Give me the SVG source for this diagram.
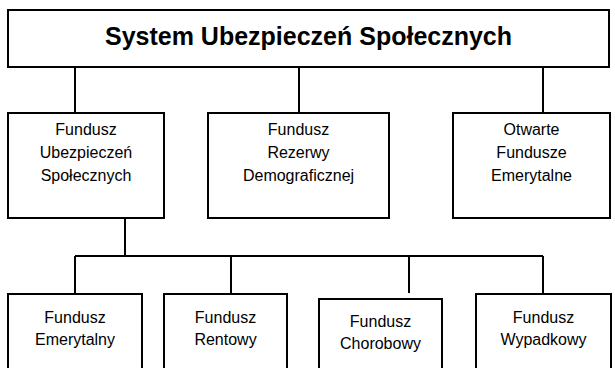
<svg xmlns="http://www.w3.org/2000/svg" width="615" height="368" viewBox="0 0 615 368">
<style>
.box{fill:#fff;stroke:#000;stroke-width:2}
.ln{stroke:#000;stroke-width:2;fill:none}
.t{font-family:"Liberation Sans",Arial,sans-serif;font-size:16px;fill:#000;text-anchor:middle}
.title{font-family:"Liberation Sans",Arial,sans-serif;font-size:25px;font-weight:bold;fill:#000;text-anchor:middle}
</style>
<rect width="615" height="368" fill="#fff"/>
<g id="connectors">
<path class="ln" d="M75 67V113M299 67V113M543 67V113"/>
<path class="ln" d="M125 218V256M75 256H543M75 256V294M231 256V294M409 256V293M543 256V294"/>
</g>
<g id="n-sus"><rect class="box" x="8" y="10" width="601" height="57"/><text class="title" x="308.5" y="45">System Ubezpieczeń Społecznych</text></g>
<g id="n-fus"><rect class="box" x="8" y="113" width="156" height="105"/><text class="t" x="86" y="135">Fundusz</text><text class="t" x="86" y="158">Ubezpieczeń</text><text class="t" x="86" y="181">Społecznych</text></g>
<g id="n-frd"><rect class="box" x="208" y="113" width="181" height="105"/><text class="t" x="298.5" y="135">Fundusz</text><text class="t" x="298.5" y="158">Rezerwy</text><text class="t" x="298.5" y="181">Demograficznej</text></g>
<g id="n-ofe"><rect class="box" x="453" y="113" width="157" height="105"/><text class="t" x="531.5" y="135">Otwarte</text><text class="t" x="531.5" y="158">Fundusze</text><text class="t" x="531.5" y="181">Emerytalne</text></g>
<g id="n-fe"><rect class="box" x="8" y="294" width="134" height="80"/><text class="t" x="75" y="323">Fundusz</text><text class="t" x="75" y="345">Emerytalny</text></g>
<g id="n-fr"><rect class="box" x="164" y="294" width="123" height="80"/><text class="t" x="225.5" y="323">Fundusz</text><text class="t" x="225.5" y="345">Rentowy</text></g>
<g id="n-fc"><rect class="box" x="319" y="299" width="123" height="80"/><text class="t" x="380.5" y="327">Fundusz</text><text class="t" x="380.5" y="349">Chorobowy</text></g>
<g id="n-fw"><rect class="box" x="476" y="294" width="135" height="80"/><text class="t" x="543.5" y="323">Fundusz</text><text class="t" x="543.5" y="345">Wypadkowy</text></g>
</svg>
